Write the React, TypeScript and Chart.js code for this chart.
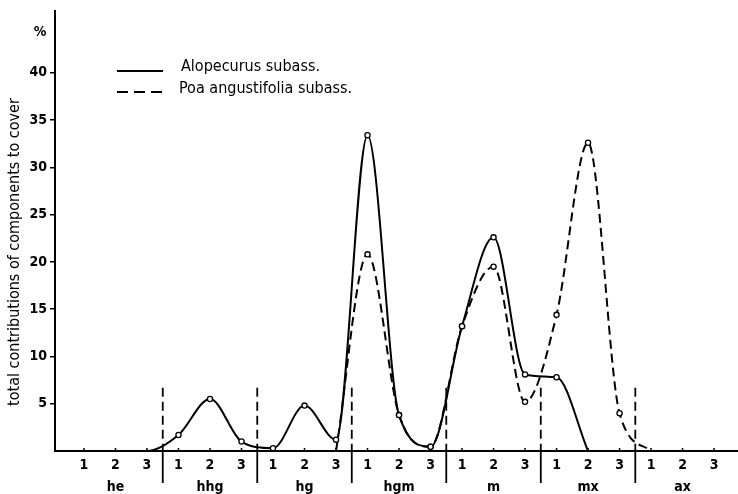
import React, { useEffect, useRef } from 'react';
import { Chart, registerables } from 'chart.js';

Chart.register(...registerables);

// ---- data ----
const groups = ['he', 'hhg', 'hg', 'hgm', 'm', 'mx', 'ax'];
const subLabels = ['1', '2', '3'];
const alopecurus = [0, 0, 0, 1.7, 5.5, 1.0, 0.3, 4.8, 1.2, 33.4, 3.8, 0.45, 13.2, 22.6, 8.1, 7.8, 0, null, null, null, null];
const alopecurusMarked = [0, 0, 0, 1, 1, 1, 1, 1, 1, 1, 1, 1, 1, 1, 1, 1, 0, 0, 0, 0, 0];
const poa = [null, null, null, null, null, null, null, null, 0, 20.8, 3.8, 0.45, 13.2, 19.5, 5.2, 14.4, 32.6, 4.0, 0, null, null];
const poaMarked = [0, 0, 0, 0, 0, 0, 0, 0, 0, 1, 1, 1, 1, 1, 1, 1, 1, 1, 0, 0, 0];
const yTicks = [5, 10, 15, 20, 25, 30, 35, 40];
const seriesNames = ['Alopecurus subass.', 'Poa angustifolia subass.'];
const yTitle = 'total contributions of components to cover';
const yUnit = '%';

const FONT = "'DejaVu Sans Condensed', 'Liberation Sans Narrow', 'DejaVu Sans', sans-serif";

const toPoints = (arr: (number | null)[]) => arr.map((v, i) => ({ x: i, y: v }));

const decorPlugin = {
  id: 'decor',
  beforeDatasetsDraw(chart: any) {
    const { ctx, chartArea, scales } = chart;
    const xs = scales.x;
    const ys = scales.y;
    ctx.save();
    ctx.strokeStyle = '#000';
    // small tick marks above axis
    ctx.lineWidth = 1.5;
    for (let i = 0; i < groups.length * 3; i++) {
      const px = xs.getPixelForValue(i);
      ctx.beginPath();
      ctx.moveTo(px, chartArea.bottom);
      ctx.lineTo(px, chartArea.bottom - 3);
      ctx.stroke();
    }
    // group separators
    const topY = ys.getPixelForValue(6.7);
    for (let k = 1; k < groups.length; k++) {
      const px = xs.getPixelForValue(3 * k - 0.5);
      ctx.lineWidth = 1.8;
      ctx.setLineDash([9, 5]);
      ctx.beginPath();
      ctx.moveTo(px, topY);
      ctx.lineTo(px, chartArea.bottom);
      ctx.stroke();
      ctx.setLineDash([]);
      ctx.beginPath();
      ctx.moveTo(px, chartArea.bottom);
      ctx.lineTo(px, chartArea.bottom + 32);
      ctx.stroke();
    }
    ctx.restore();
  },
  afterDraw(chart: any) {
    const { ctx } = chart;
    ctx.save();
    ctx.fillStyle = '#000';
    ctx.strokeStyle = '#000';
    // y title
    ctx.save();
    ctx.translate(15, 252);
    ctx.rotate(-Math.PI / 2);
    ctx.font = `16px ${FONT}`;
    ctx.textAlign = 'center';
    ctx.textBaseline = 'middle';
    ctx.fillText(yTitle, 0, 0);
    ctx.restore();
    // unit
    ctx.font = `bold 14px ${FONT}`;
    ctx.textAlign = 'center';
    ctx.textBaseline = 'middle';
    ctx.fillText(yUnit, 40, 32);
    // legend
    ctx.lineWidth = 2;
    ctx.beginPath();
    ctx.moveTo(117, 71);
    ctx.lineTo(163, 71);
    ctx.stroke();
    ctx.setLineDash([11, 6]);
    ctx.beginPath();
    ctx.moveTo(117, 92);
    ctx.lineTo(163, 92);
    ctx.stroke();
    ctx.setLineDash([]);
    ctx.font = `16px ${FONT}`;
    ctx.textAlign = 'left';
    ctx.fillText(seriesNames[0], 181, 67);
    ctx.fillText(seriesNames[1], 179, 89);
    ctx.restore();
  },
};

export default function App() {
  const ref = useRef<HTMLCanvasElement | null>(null);
  useEffect(() => {
    if (!ref.current) return;
    const chart = new Chart(ref.current, {
      type: 'line',
      data: {
        datasets: [
          {
            label: seriesNames[0],
            data: toPoints(alopecurus) as any,
            borderColor: '#000',
            borderWidth: 2,
            pointRadius: alopecurusMarked.map((m) => (m ? 2.6 : 0)),
            pointBackgroundColor: '#fff',
            pointBorderColor: '#000',
            pointBorderWidth: 1.3,
            cubicInterpolationMode: 'monotone',
            spanGaps: false,
          },
          {
            label: seriesNames[1],
            data: toPoints(poa) as any,
            borderColor: '#000',
            borderWidth: 2,
            borderDash: [9, 5],
            pointRadius: poaMarked.map((m) => (m ? 2.6 : 0)),
            pointBackgroundColor: '#fff',
            pointBorderColor: '#000',
            pointBorderWidth: 1.3,
            cubicInterpolationMode: 'monotone',
            spanGaps: false,
          },
        ],
      },
      options: {
        animation: false,
        responsive: false,
        maintainAspectRatio: false,
        layout: { padding: { top: 7, left: 0, right: 0, bottom: 0 } },
        plugins: { legend: { display: false }, tooltip: { enabled: false } },
        scales: {
          x: {
            type: 'linear',
            min: -0.92,
            max: 20.76,
            afterBuildTicks: (s: any) => {
              s.ticks = Array.from({ length: groups.length * 3 }, (_, i) => ({ value: i }));
            },
            afterFit: (s: any) => {
              s.height = 43;
            },
            ticks: {
              autoSkip: false,
              maxRotation: 0,
              padding: 3,
              color: '#000',
              font: { family: FONT, size: 14, weight: 'bold', lineHeight: 1.6 },
              callback: (v: any) => {
                const i = Math.round(Number(v));
                const sub = subLabels[i % 3];
                return i % 3 === 1 ? [sub, groups[Math.floor(i / 3)]] : sub;
              },
            },
            grid: { display: false, drawTicks: false },
            border: { display: true, color: '#000', width: 2 },
          },
          y: {
            min: 0,
            max: 46.5,
            afterBuildTicks: (s: any) => {
              s.ticks = yTicks.map((v) => ({ value: v }));
            },
            afterFit: (s: any) => {
              s.width = 55;
            },
            ticks: {
              padding: 3,
              color: '#000',
              font: { family: FONT, size: 14, weight: 'bold' },
            },
            grid: { drawOnChartArea: false, drawTicks: true, tickLength: 5, color: '#000', lineWidth: 1.5 },
            border: { display: true, color: '#000', width: 2 },
          },
        },
      } as any,
      plugins: [decorPlugin],
    });
    return () => chart.destroy();
  }, []);
  return (
    <div style={{ position: 'absolute', left: 0, top: 0, width: 738, height: 494, background: '#fff' }}>
      <canvas ref={ref} width={738} height={494} style={{ display: 'block' }} />
    </div>
  );
}
